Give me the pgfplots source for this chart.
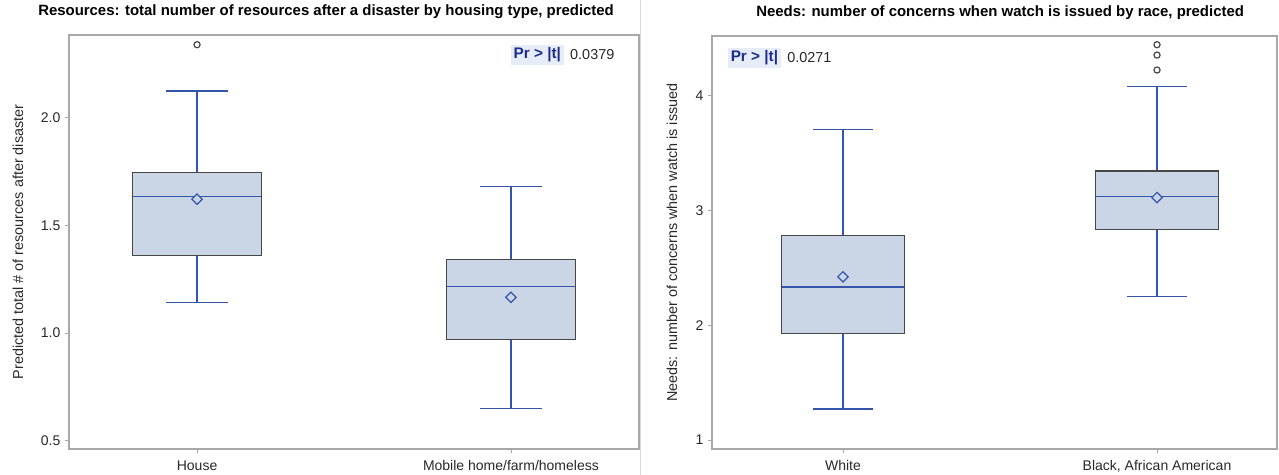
\documentclass[border=0pt]{standalone}
\usepackage{pgfplots}
\pgfplotsset{compat=1.18}
\usepgfplotslibrary{statistics}
\usepackage{fontspec}
\setmainfont{Liberation Sans}
\definecolor{sasblue}{RGB}{52,85,170}
\definecolor{boxfill}{RGB}{202,213,229}
\definecolor{boxline}{RGB}{70,70,70}
\definecolor{frame}{RGB}{168,168,168}
\definecolor{txt}{RGB}{40,40,40}
\definecolor{prfill}{RGB}{230,236,248}
\definecolor{prtxt}{RGB}{30,45,140}
\pgfdeclareplotmark{sasdiamond}{%
  \pgfsetfillcolor{boxfill}%
  \pgfsetstrokecolor{sasblue}%
  \pgfsetlinewidth{0.9pt}%
  \pgfpathmoveto{\pgfqpoint{0pt}{\pgfplotmarksize}}%
  \pgfpathlineto{\pgfqpoint{\pgfplotmarksize}{0pt}}%
  \pgfpathlineto{\pgfqpoint{0pt}{-\pgfplotmarksize}}%
  \pgfpathlineto{\pgfqpoint{-\pgfplotmarksize}{0pt}}%
  \pgfpathclose
  \pgfusepathqfillstroke}
\pgfplotsset{
  sasbox/.style={
    scale only axis,
    axis line style={draw=frame, line width=0.9pt},
    tick style={draw=frame, line width=0.6pt},
    tick align=outside,
    major tick length=3pt,
    xtick pos=bottom, ytick pos=left,
    xtick={0,1},
    ticklabel style={font=\fontsize{10.5}{12}\selectfont, text=txt},
    xticklabel style={yshift=-2pt},
    /pgf/number format/assume math mode=true,
    label style={font=\fontsize{10.8}{12}\selectfont, text=txt},
    title style={font=\bfseries\fontsize{11.2}{13}\selectfont, text=black},
    boxplot/draw direction=y,
    boxplot/every box/.style={draw=boxline, fill=boxfill, line width=1pt},
    boxplot/every median/.style={draw=sasblue, line width=1pt},
    boxplot/every whisker/.style={draw=sasblue, line width=1pt},
    boxplot/every average/.style={/tikz/mark=sasdiamond},
  },
  sasplot/.style={draw=sasblue, line width=1pt, mark=sasdiamond, mark size=3.9pt, mark options={draw=sasblue, fill=boxfill, line width=0.9pt}},
  outl/.style={only marks, mark=o, mark size=2.3pt, mark options={draw=boxline, line width=0.9pt}},
}
\begin{document}
\begin{tikzpicture}
\useasboundingbox (0,0) rectangle (959.25pt,356.25pt);
\draw[draw=black!15, line width=0.6pt] (480pt,0) -- (480pt,356.25pt);
% Left panel
\begin{axis}[sasbox,
  at={(51.75pt,19.5pt)}, anchor=south west,
  width=427.5pt, height=310.5pt,
  xmin=-0.408, xmax=1.408,
  ymin=0.461, ymax=2.385,
  ytick={0.5,1.0,1.5,2.0},
  yticklabel style={/pgf/number format/.cd, fixed, fixed zerofill, precision=1},
  xticklabels={House, Mobile home/farm/homeless},
  ylabel={Predicted total \# of resources after disaster},
  ylabel style={at={(axis description cs:-0.0895,0.5)}, anchor=center, rotate=0},
  title={Resources: total number of resources after a disaster by housing type, predicted},
  title style={at={(axis description cs:0.451,1)}, anchor=center, yshift=11.25pt},
]
\addplot[sasplot, boxplot prepared={median=1.634, upper quartile=1.745, lower quartile=1.360, upper whisker=2.124, lower whisker=1.142, average=1.622, draw position=0, box extend=0.41, whisker extend=0.2}]
  coordinates {};
\addplot[sasplot, boxplot prepared={median=1.217, upper quartile=1.343, lower quartile=0.971, upper whisker=1.682, lower whisker=0.650, average=1.166, draw position=1, box extend=0.41, whisker extend=0.2}]
  coordinates {};
\addplot[outl] coordinates {(0,2.34)};
\node[anchor=west, fill=prfill, text=prtxt, font=\bfseries\fontsize{11.5}{13}\selectfont, inner sep=2pt] (pr1) at (axis description cs:0.775,0.952) {Pr > |t|};
\node[anchor=west, text=txt, font=\fontsize{10.8}{12}\selectfont, inner sep=2pt, xshift=2.5pt] at (pr1.east) {0.0379};
\end{axis}
% Right panel
\begin{axis}[sasbox,
  at={(534pt,19.5pt)}, anchor=south west,
  width=423.75pt, height=309.75pt,
  xmin=-0.417, xmax=1.382,
  ymin=0.922, ymax=4.516,
  ytick={1,2,3,4},
  xticklabels={White, {Black, African American}},
  ylabel={Needs: number of concerns when watch is issued},
  ylabel style={at={(axis description cs:-0.0708,0.5)}, anchor=center, rotate=0},
  title={Needs: number of concerns when watch is issued by race, predicted},
  title style={at={(axis description cs:0.51,1)}, anchor=center, yshift=11.25pt},
]
\addplot[sasplot, boxplot prepared={median=2.333, upper quartile=2.777, lower quartile=1.928, upper whisker=3.704, lower whisker=1.270, average=2.42, draw position=0, box extend=0.39, whisker extend=0.19}]
  coordinates {};
\addplot[sasplot, boxplot prepared={median=3.12, upper quartile=3.34, lower quartile=2.83, upper whisker=4.078, lower whisker=2.25, average=3.11, draw position=1, box extend=0.39, whisker extend=0.19}]
  coordinates {};
\addplot[outl] coordinates {(1,4.44) (1,4.35) (1,4.22)};
\node[anchor=west, fill=prfill, text=prtxt, font=\bfseries\fontsize{11.5}{13}\selectfont, inner sep=2pt] (pr2) at (axis description cs:0.028,0.947) {Pr > |t|};
\node[anchor=west, text=txt, font=\fontsize{10.8}{12}\selectfont, inner sep=2pt, xshift=2.5pt] at (pr2.east) {0.0271};
\end{axis}
\end{tikzpicture}
\end{document}
